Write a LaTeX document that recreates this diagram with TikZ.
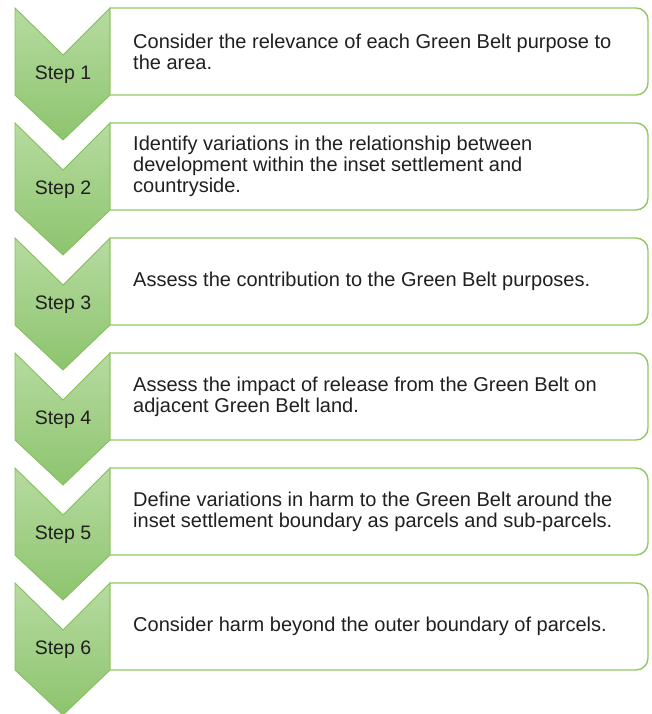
\documentclass[tikz,border=0pt]{standalone}
\usepackage{fontspec}
\setmainfont{Liberation Sans}
\definecolor{chevline}{RGB}{134,190,92}
\definecolor{chevtop}{RGB}{182,219,160}
\definecolor{chevbottom}{RGB}{141,196,110}
\definecolor{boxline}{RGB}{146,200,102}
\definecolor{inktext}{RGB}{32,32,32}
\tikzset{
  chevron/.pic={
    \draw[chevline,line width=0.9pt,top color=chevtop,bottom color=chevbottom]
      (15,0) -- (63,-47) -- (110,0) -- (110,-87) -- (63,-132) -- (15,-87) -- cycle;
  },
  panel/.pic={
    \draw[boxline,line width=1.4pt,fill=white]
      (110,0) -- (636,0) arc[start angle=90,end angle=0,radius=12pt]
      -- (648,-75) arc[start angle=0,end angle=-90,radius=12pt] -- (110,-87) -- cycle;
  },
  steplabel/.style={text=inktext,font=\fontsize{19.5}{21}\selectfont},
  steptext/.style={text=inktext,anchor=west,inner sep=0pt,align=left,
    font=\fontsize{20}{21}\selectfont}
}
\begin{document}
\begin{tikzpicture}[x=1pt,y=1pt]
\useasboundingbox (0,0) rectangle (651,-714);
% step 1
\pic at (0,-8) {chevron};
\pic at (0,-8) {panel};
\node[steplabel] (s1) at (63,-75) {Step 1};
\node[steptext] (t1) at (133,-51.5) {Consider the relevance of each Green Belt purpose to\\the area.};
% step 2
\pic at (0,-123) {chevron};
\pic at (0,-123) {panel};
\node[steplabel] (s2) at (63,-190) {Step 2};
\node[steptext] (t2) at (133,-166.5) {Identify variations in the relationship between\\development within the inset settlement and\\countryside.};
% step 3
\pic at (0,-238) {chevron};
\pic at (0,-238) {panel};
\node[steplabel] (s3) at (63,-305) {Step 3};
\node[steptext] (t3) at (133,-281.5) {Assess the contribution to the Green Belt purposes.};
% step 4
\pic at (0,-353) {chevron};
\pic at (0,-353) {panel};
\node[steplabel] (s4) at (63,-420) {Step 4};
\node[steptext] (t4) at (133,-396.5) {Assess the impact of release from the Green Belt on\\adjacent Green Belt land.};
% step 5
\pic at (0,-468) {chevron};
\pic at (0,-468) {panel};
\node[steplabel] (s5) at (63,-535) {Step 5};
\node[steptext] (t5) at (133,-511.5) {Define variations in harm to the Green Belt around the\\inset settlement boundary as parcels and sub-parcels.};
% step 6
\pic at (0,-583) {chevron};
\pic at (0,-583) {panel};
\node[steplabel] (s6) at (63,-650) {Step 6};
\node[steptext] (t6) at (133,-626.5) {Consider harm beyond the outer boundary of parcels.};
\end{tikzpicture}
\end{document}
